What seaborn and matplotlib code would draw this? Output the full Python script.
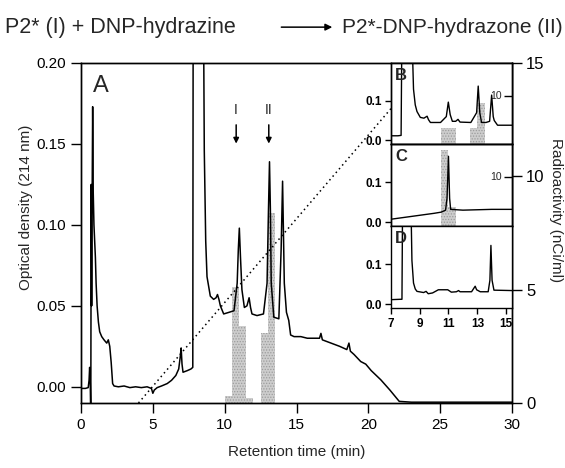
import matplotlib
matplotlib.use("Agg")
import matplotlib.pyplot as plt
import matplotlib.transforms as mtransforms
from matplotlib.ticker import FormatStrFormatter
import seaborn as sns

# --- panel A: full HPLC run, optical density at 214 nm ---
time_a = [0.0, 0.3, 0.5, 0.56, 0.6, 0.64, 0.68, 0.71, 0.74, 0.77, 0.81, 0.85, 0.9, 0.95,
          1.0, 1.05, 1.12, 1.21, 1.3, 1.44, 1.6, 1.79, 1.9, 2.0, 2.1, 2.2, 2.3, 2.6, 3.0,
          3.4, 3.8, 4.2, 4.6, 4.9, 5.0, 5.1, 5.3, 5.6, 6.0, 6.3, 6.6, 6.8, 6.9, 6.97, 7.03,
          7.1, 7.4, 7.65, 7.78, 7.82, 7.9, 8.4, 8.54, 8.58, 8.68, 8.77, 9.0, 9.23, 9.4, 9.5,
          9.6, 9.7, 9.93, 10.3, 10.65, 10.87, 10.95, 11.02, 11.1, 11.2, 11.37, 11.55, 11.7,
          11.8, 11.9, 12.25, 12.7, 12.95, 13.05, 13.12, 13.18, 13.24, 13.42, 13.77, 13.93,
          14.03, 14.15, 14.3, 14.46, 14.59, 14.83, 15.3, 15.75, 16.2, 16.6, 16.7, 16.8,
          17.4, 18.0, 18.5, 18.65, 18.75, 19.0, 19.47, 19.82, 20.2, 20.87, 21.5, 22.15,
          23.0, 25.0, 27.0, 30.0]
od_a = [-0.001, -0.001, -0.0005, 0.004, 0.012, 0.004, -0.02, 0.125, 0.05, 0.11, 0.173,
        0.12, 0.10, 0.09, 0.08, 0.064, 0.05, 0.040, 0.034, 0.031, 0.029, 0.027, 0.029,
        0.025, 0.015, 0.002, 0.0005, 0.0, 0.0005, -0.0005, 0.0, -0.0005, 0.0, -0.001,
        -0.004, -0.002, -0.0005, 0.0005, 0.002, 0.004, 0.007, 0.011, 0.018, 0.024, 0.014,
        0.009, 0.010, 0.011, 0.012, 0.35, 0.4, 0.4, 0.21, 0.146, 0.09, 0.068, 0.056,
        0.054, 0.055, 0.057, 0.054, 0.050, 0.045, 0.046, 0.047, 0.064, 0.085, 0.098,
        0.08, 0.060, 0.049, 0.050, 0.055, 0.049, 0.045, 0.044, 0.045, 0.064, 0.11, 0.139,
        0.11, 0.064, 0.043, 0.042, 0.085, 0.127, 0.064, 0.046, 0.041, 0.032, 0.031, 0.031,
        0.030, 0.030, 0.030, 0.033, 0.029, 0.027, 0.025, 0.023, 0.027, 0.022, 0.020,
        0.0156, 0.014, 0.010, 0.0043, -0.002, -0.009, -0.0095, -0.0095, -0.0095, -0.0095]

# radioactivity of the 0.5 min fractions (nCi/ml)
frac_start_a = [10.0, 10.5, 11.0, 11.5, 12.5, 13.0]
radio_a = [0.3, 5.1, 3.4, 0.2, 3.1, 8.4]

# acetonitrile gradient (dotted line)
grad_t = [4.0, 30.0]
grad_y = [-0.01, 0.259]

# --- insets B, C, D (7-15 min) ---
time_b = [7.0, 7.5, 7.72, 7.78, 8.45, 8.58, 8.7, 8.82, 9.05, 9.3, 9.52, 9.62, 9.75, 10.45,
          10.85, 10.99, 11.12, 11.27, 11.5, 11.66, 11.8, 12.55, 12.95, 13.06, 13.17, 13.29,
          13.6, 13.85, 13.99, 14.1, 14.17, 14.4, 15.4]
od_b = [0.011, 0.011, 0.012, 0.3, 0.3, 0.13, 0.09, 0.073, 0.058, 0.056, 0.061, 0.052,
        0.045, 0.045, 0.06, 0.097, 0.065, 0.048, 0.048, 0.053, 0.046, 0.045, 0.07, 0.138,
        0.07, 0.045, 0.045, 0.048, 0.115, 0.06, 0.05, 0.038, 0.038]
frac_start_b = [10.5, 11.0, 12.5, 13.0]
radio_b = [3.3, 3.3, 3.3, 8.5]

time_c = [7.0, 8.0, 9.0, 10.0, 10.5, 10.8, 10.9, 11.0, 11.08, 11.15, 12.0, 13.0, 14.0, 15.4]
od_c = [0.007, 0.012, 0.017, 0.022, 0.025, 0.030, 0.06, 0.166, 0.06, 0.032, 0.030, 0.031,
        0.032, 0.032]
frac_start_c = [10.5, 11.0]
radio_c = [15.7, 4.0]

time_d = [7.0, 7.7, 7.78, 7.83, 8.38, 8.47, 8.58, 8.7, 8.82, 9.28, 9.45, 9.6, 9.9, 10.1,
          10.3, 10.95, 11.2, 11.55, 11.7, 11.8, 12.6, 12.85, 12.95, 13.2, 13.75, 13.87,
          13.94, 14.02, 14.15, 15.4]
od_d = [0.011, 0.012, 0.012, 0.3, 0.3, 0.11, 0.053, 0.038, 0.032, 0.029, 0.032, 0.026,
        0.028, 0.032, 0.036, 0.036, 0.030, 0.031, 0.034, 0.031, 0.031, 0.045, 0.036, 0.031,
        0.031, 0.06, 0.148, 0.06, 0.035, 0.034]

SHADE = "#cdcdcd"
HATCH_EDGE = "#9c9c9c"

sns.set_theme(style="ticks", rc={"axes.edgecolor": "black", "axes.linewidth": 1.0,
                                 "xtick.color": "black", "ytick.color": "black",
                                 "hatch.linewidth": 0.6})
plt.rcParams["font.family"] = ["Liberation Sans", "DejaVu Sans"]

fig = plt.figure(figsize=(5.65, 4.68), dpi=100)

# main panel
ax = fig.add_axes([0.1434, 0.1389, 0.7628, 0.7265])
ax_r = ax.twinx()
ax_r.set_zorder(1)
ax.set_zorder(2)
ax.patch.set_visible(False)
ax_r.patch.set_visible(True)
ax_r.patch.set_facecolor("white")

ax_r.bar(frac_start_a, radio_a, width=0.5, align="edge", color=SHADE,
         edgecolor=HATCH_EDGE, hatch="......", linewidth=0)
ax_r.set_ylim(0, 15)
ax_r.set_yticks([0, 5, 10, 15])
ax_r.tick_params(axis="y", direction="out", length=7, width=1, labelsize=12, pad=3)
ax_r.set_ylabel("Radioactivity (nCi/ml)", rotation=270, va="bottom", fontsize=11)
ax_r.yaxis.set_label_coords(1.086, 0.568)

ax.plot(grad_t, grad_y, ls=(0, (1, 2.2)), color="black", lw=1.1)
sns.lineplot(x=time_a, y=od_a, ax=ax, color="black", lw=1.1, sort=False, estimator=None)
ax.set_xlim(0, 30)
ax.set_ylim(-0.01, 0.20)
ax.set_xticks([0, 5, 10, 15, 20, 25, 30])
ax.set_yticks([0.0, 0.05, 0.10, 0.15, 0.20])
ax.yaxis.set_major_formatter(FormatStrFormatter("%.2f"))
ax.tick_params(direction="out", length=7, width=1, labelsize=11, pad=4)
ax.set_xlabel("Retention time (min)", fontsize=11, labelpad=9)
ax.set_ylabel("Optical density (214 nm)", fontsize=11)
ax.yaxis.set_label_coords(-0.112, 0.575)

ax.text(0.028, 0.965, "A", transform=ax.transAxes, fontsize=17, va="top", ha="left")
for x, lab in [(10.8, "I"), (13.07, "II")]:
    ax.text(x, 0.171, lab, ha="center", va="center", fontsize=10)
    ax.annotate("", xy=(x, 0.1485), xytext=(x, 0.1635),
                arrowprops=dict(arrowstyle="-|>", color="black", lw=1.1, mutation_scale=8))

# title reaction scheme
fig.text(0.009, 0.942, "P2* (I) + DNP-hydrazine", fontsize=15.5, va="center", ha="left")
fig.text(0.605, 0.942, "P2*-DNP-hydrazone (II)", fontsize=15, va="center", ha="left")
fig.patches.append(matplotlib.patches.FancyArrowPatch(
    (0.493, 0.942), (0.593, 0.942), transform=fig.transFigure, arrowstyle="-|>",
    mutation_scale=10, lw=1.1, color="black"))


def add_panel(rect, time, od, letter, frac_start=None, radio=None, show_x=False):
    axi = fig.add_axes(rect)
    axi.set_zorder(6)
    if frac_start is not None:
        axr = axi.twinx()
        axr.set_zorder(5)
        axi.patch.set_visible(False)
        axr.patch.set_visible(True)
        axr.patch.set_facecolor("white")
        axr.bar(frac_start, radio, width=0.5, align="edge", color=SHADE,
                edgecolor=HATCH_EDGE, hatch="......", linewidth=0)
        axr.set_ylim(0, 16.9)
        axr.set_yticks([10])
        axr.tick_params(axis="y", direction="in", length=6, width=1, labelright=False)
        trans = mtransforms.blended_transform_factory(axr.transAxes, axr.transData)
        axr.text(0.915, 10, "10", transform=trans, ha="right", va="center", fontsize=7.5)
    sns.lineplot(x=time, y=od, ax=axi, color="black", lw=1.0, sort=False, estimator=None)
    axi.set_xlim(7, 15.4)
    axi.set_ylim(-0.01, 0.197)
    axi.set_yticks([0.0, 0.1])
    axi.yaxis.set_major_formatter(FormatStrFormatter("%.1f"))
    axi.set_xlabel("")
    axi.set_ylabel("")
    axi.tick_params(axis="y", direction="out", length=4, width=1, labelsize=8.5, pad=2)
    if show_x:
        axi.set_xticks([7, 9, 11, 13, 15])
        axi.tick_params(axis="x", direction="out", length=4, width=1, labelsize=8.5, pad=3)
    else:
        axi.tick_params(axis="x", bottom=False, labelbottom=False)
    for lbl in axi.get_xticklabels() + axi.get_yticklabels():
        lbl.set_fontweight("bold")
    axi.text(0.035, 0.94, letter, transform=axi.transAxes, fontsize=12,
             fontweight="bold", va="top", ha="left")
    return axi


add_panel([0.6915, 0.6923, 0.2147, 0.1731], time_b, od_b, "B", frac_start_b, radio_b)
add_panel([0.6915, 0.5171, 0.2147, 0.1752], time_c, od_c, "C", frac_start_c, radio_c)
add_panel([0.6915, 0.3419, 0.2147, 0.1752], time_d, od_d, "D", show_x=True)

fig.savefig("out.png", dpi=100)
